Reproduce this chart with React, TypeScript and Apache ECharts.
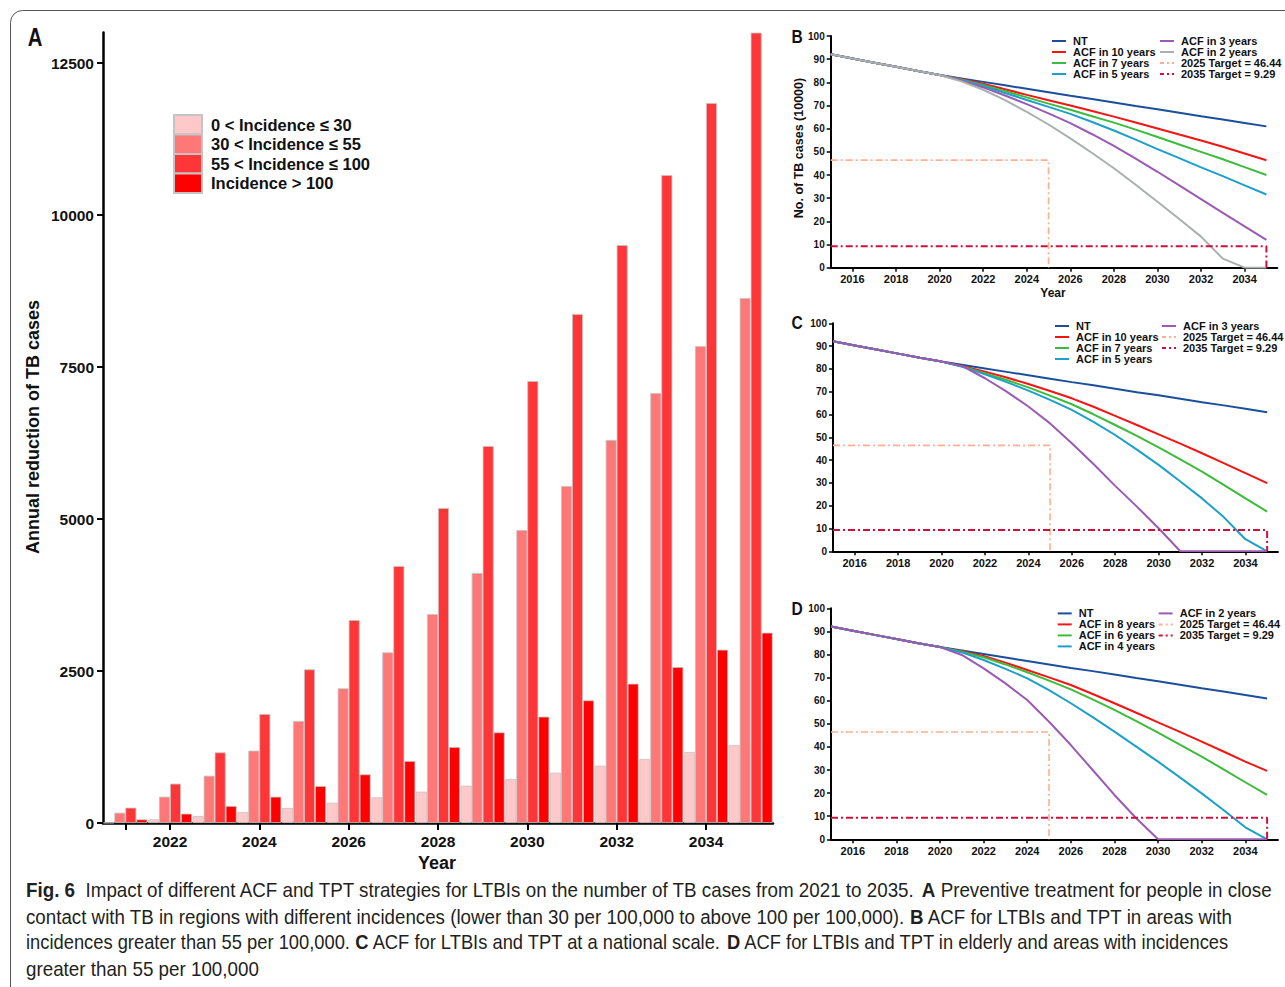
import React, { useEffect, useRef } from "react";
import * as echarts from "echarts";

const FONT = '"Liberation Sans", Arial, Helvetica, sans-serif';

// ---------- Panel A: annual reduction of TB cases by incidence band ----------
const barYears = ["2021", "2022", "2023", "2024", "2025", "2026", "2027", "2028", "2029", "2030", "2031", "2032", "2033", "2034", "2035"];
const incidenceLabels = ["0 < Incidence ≤ 30", "30 < Incidence ≤ 55", "55 < Incidence ≤ 100", "Incidence > 100"];
const incidenceColors = ["#FFC9C9", "#FF7878", "#FF3638", "#FF0000"];
const reductionLow = [5, 60, 115, 181, 247, 334, 422, 515, 614, 724, 828, 943, 1053, 1168, 1283];
const reductionMidLow = [169, 433, 778, 1190, 1678, 2215, 2807, 3437, 4112, 4819, 5543, 6300, 7072, 7845, 8635];
const reductionMidHigh = [252, 647, 1162, 1793, 2527, 3339, 4227, 5181, 6201, 7270, 8372, 9506, 10658, 11842, 13000];
const reductionHigh = [60, 154, 280, 433, 608, 800, 1020, 1250, 1491, 1749, 2018, 2291, 2566, 2850, 3130];
const barTicks = [0, 2500, 5000, 7500, 10000, 12500];

// ---------- Panels B–D: projected TB cases (10000) ----------
const lineYears = [2015, 2016, 2017, 2018, 2019, 2020, 2021, 2022, 2023, 2024, 2025, 2026, 2027, 2028, 2029, 2030, 2031, 2032, 2033, 2034, 2035];
const yearTicks = [2016, 2018, 2020, 2022, 2024, 2026, 2028, 2030, 2032, 2034];
const sharedHistory = [92.1, 90.3, 88.5, 86.7, 84.9, 83.2]; // 2015–2020
const ntCases = [81.7, 80.2, 78.7, 77.2, 75.7, 74.2, 72.8, 71.3, 69.8, 68.4, 66.9, 65.4, 64.0, 62.5, 61.0]; // 2021–2035

const bAcf10 = [81.4, 79.4, 77.0, 74.6, 72.3, 70.0, 67.6, 65.2, 62.7, 60.1, 57.5, 54.9, 52.2, 49.3, 46.4];
const bAcf7 = [81.2, 78.9, 76.2, 73.5, 70.8, 68.2, 65.4, 62.6, 59.6, 56.4, 53.2, 50.0, 46.8, 43.4, 40.0];
const bAcf5 = [81.0, 78.4, 75.4, 72.4, 69.4, 66.4, 62.9, 59.2, 55.3, 51.2, 47.3, 43.3, 39.5, 35.5, 31.6];
const bAcf3 = [80.8, 77.8, 74.3, 70.6, 66.6, 62.4, 57.6, 52.6, 47.1, 41.4, 35.5, 29.6, 23.7, 17.8, 12.0];
const bAcf2 = [80.4, 76.8, 72.3, 67.3, 61.8, 55.8, 49.5, 42.9, 35.8, 28.5, 21.0, 13.4, 3.9, 0, 0];

const cAcf10 = [81.2, 78.8, 76.2, 73.4, 70.3, 67.1, 63.4, 59.4, 55.4, 51.3, 47.2, 43.0, 38.7, 34.3, 29.9];
const cAcf7 = [81.0, 78.0, 75.1, 71.9, 68.3, 64.5, 60.1, 55.4, 50.6, 45.6, 40.3, 34.9, 29.1, 23.2, 17.4];
const cAcf5 = [80.8, 77.6, 74.2, 70.5, 66.4, 62.0, 56.8, 51.0, 44.6, 37.9, 30.6, 23.2, 15.0, 5.3, 0];
const cAcf3 = [81.0, 75.9, 70.0, 63.5, 56.1, 47.4, 38.3, 28.7, 19.6, 10.1, 0, 0, 0, 0, 0];

const dAcf8 = [81.4, 79.4, 76.5, 73.3, 70.1, 66.8, 62.9, 58.9, 54.8, 50.6, 46.5, 42.3, 38.0, 33.6, 29.6];
const dAcf6 = [81.2, 78.8, 75.7, 72.3, 68.7, 64.9, 60.6, 56.0, 51.2, 46.2, 41.0, 35.8, 30.3, 24.7, 19.2];
const dAcf4 = [80.9, 77.6, 73.8, 69.7, 64.6, 58.9, 52.9, 46.6, 40.1, 33.6, 26.8, 19.9, 12.7, 5.2, 0];
const dAcf2 = [79.8, 74.0, 67.5, 60.3, 50.9, 40.8, 30.0, 19.2, 9.1, 0, 0, 0, 0, 0, 0];

const target2025 = 46.44;
const target2035 = 9.29;
const target2025Name = "2025 Target = 46.44";
const target2035Name = "2035 Target = 9.29";

const C_NT = "#1B4F9C";
const C_RED = "#F41414";
const C_GREEN = "#3DBB3D";
const C_CYAN = "#1DA0C8";
const C_PURPLE = "#9B5BB5";
const C_GRAY = "#A9B0AF";
const C_T2025 = "#FFAE90";
const C_T2035 = "#D0103A";
const DASH_DOT = [7, 3, 2, 3];

type Curve = { name: string; color: string; values: number[] };

const panelB: Curve[] = [
  { name: "NT", color: C_NT, values: ntCases },
  { name: "ACF in 10 years", color: C_RED, values: bAcf10 },
  { name: "ACF in 7 years", color: C_GREEN, values: bAcf7 },
  { name: "ACF in 5 years", color: C_CYAN, values: bAcf5 },
  { name: "ACF in 3 years", color: C_PURPLE, values: bAcf3 },
  { name: "ACF in 2 years", color: C_GRAY, values: bAcf2 },
];
const panelC: Curve[] = [
  { name: "NT", color: C_NT, values: ntCases },
  { name: "ACF in 10 years", color: C_RED, values: cAcf10 },
  { name: "ACF in 7 years", color: C_GREEN, values: cAcf7 },
  { name: "ACF in 5 years", color: C_CYAN, values: cAcf5 },
  { name: "ACF in 3 years", color: C_PURPLE, values: cAcf3 },
];
const panelD: Curve[] = [
  { name: "NT", color: C_NT, values: ntCases },
  { name: "ACF in 8 years", color: C_RED, values: dAcf8 },
  { name: "ACF in 6 years", color: C_GREEN, values: dAcf6 },
  { name: "ACF in 4 years", color: C_CYAN, values: dAcf4 },
  { name: "ACF in 2 years", color: C_PURPLE, values: dAcf2 },
];

// layout of the three line panels
const linePanels = [
  { curves: panelB, grid: { left: 830.7, top: 36, width: 446.6, height: 231.7 }, legend: { c1: 1051, c2: 1159, top: 35.5 }, col1: 4 },
  { curves: panelC, grid: { left: 833, top: 323.3, width: 445, height: 228 }, legend: { c1: 1054, c2: 1161, top: 320.5 }, col1: 4 },
  { curves: panelD, grid: { left: 831, top: 608.3, width: 447, height: 231 }, legend: { c1: 1056.7, c2: 1157.7, top: 607.9 }, col1: 4 },
];

const captionLines: [string, boolean][][] = [
  [["Fig. 6", true], ["  Impact of different ACF and TPT strategies for LTBIs on the number of TB cases from 2021 to 2035. ", false], ["A", true], [" Preventive treatment for people in close", false]],
  [["contact with TB in regions with different incidences (lower than 30 per 100,000 to above 100 per 100,000). ", false], ["B", true], [" ACF for LTBIs and TPT in areas with", false]],
  [["incidences greater than 55 per 100,000. ", false], ["C", true], [" ACF for LTBIs and TPT at a national scale. ", false], ["D", true], [" ACF for LTBIs and TPT in elderly and areas with incidences", false]],
  [["greater than 55 per 100,000", false]],
];
const captionRight = [1272, 1234, 1230, 259];
const CAPTION_LEFT = 26;
const CAPTION_SIZE = 20;
const CAPTION_COLOR = "#231F20";

function buildCaption(): any[] {
  const ctx = document.createElement("canvas").getContext("2d");
  return captionLines.map((segs, i) => {
    let w = 0;
    segs.forEach(([t, b]) => {
      if (ctx) {
        ctx.font = `${b ? "bold " : ""}${CAPTION_SIZE}px ${FONT}`;
        w += ctx.measureText(t).width;
      }
    });
    const scale = w > 0 ? (captionRight[i] - CAPTION_LEFT) / w : 0.85;
    const text = segs.map(([t, b]) => `{${b ? "b" : "r"}|${t}}`).join("");
    return {
      type: "text",
      x: CAPTION_LEFT,
      y: 890 + i * 26.3,
      scaleX: scale,
      style: {
        text,
        align: "left",
        verticalAlign: "middle",
        fontFamily: FONT,
        fontSize: CAPTION_SIZE,
        fill: CAPTION_COLOR,
        rich: {
          b: { fontWeight: "bold", fontFamily: FONT, fontSize: CAPTION_SIZE, fill: CAPTION_COLOR },
          r: { fontWeight: "normal", fontFamily: FONT, fontSize: CAPTION_SIZE, fill: CAPTION_COLOR },
        },
      },
    };
  });
}

function buildOption(): any {
  const boldLabel = { fontFamily: FONT, fontWeight: "bold", color: "#111" };

  const grids: any[] = [
    { left: 103, top: 32.6, width: 670, height: 790.4, outerBoundsMode: "none" },
    ...linePanels.map((p) => ({ ...p.grid, outerBoundsMode: "none" })),
  ];

  const xAxes: any[] = [
    {
      gridIndex: 0,
      type: "category",
      data: barYears,
      axisLine: { show: true, lineStyle: { color: "#000", width: 2.5 } },
      axisTick: {
        show: true,
        alignWithLabel: true,
        length: 7,
        lineStyle: { color: "#000", width: 2 },
        interval: (i: number) => i === 0 || i % 2 === 1,
      },
      axisLabel: { interval: (i: number) => i % 2 === 1, fontSize: 15.5, margin: 10, ...boldLabel },
      splitLine: { show: false },
    },
    ...linePanels.map((_, k) => ({
      gridIndex: k + 1,
      type: "value",
      min: 2015,
      max: 2035.5,
      splitLine: { show: false },
      axisLine: { show: true, onZero: false, lineStyle: { color: "#000", width: 2 } },
      axisTick: { show: true, customValues: yearTicks, length: 4, lineStyle: { color: "#000", width: 1.5 } },
      axisLabel: { customValues: yearTicks, formatter: (v: number) => String(v), fontSize: 11, margin: 6, ...boldLabel },
    })),
  ];

  const yAxes: any[] = [
    {
      gridIndex: 0,
      type: "value",
      min: 0,
      max: 13000,
      splitLine: { show: false },
      axisLine: { show: true, lineStyle: { color: "#000", width: 2.5 } },
      axisTick: { show: true, customValues: barTicks, length: 6, lineStyle: { color: "#000", width: 2 } },
      axisLabel: { customValues: barTicks, formatter: (v: number) => String(v), fontSize: 15.5, margin: 9, ...boldLabel },
    },
    ...linePanels.map((_, k) => ({
      gridIndex: k + 1,
      type: "value",
      min: 0,
      max: 100,
      interval: 10,
      splitLine: { show: false },
      axisLine: { show: true, lineStyle: { color: "#000", width: 2 } },
      axisTick: { show: true, length: 4, lineStyle: { color: "#000", width: 1.5 } },
      axisLabel: { fontSize: 10, margin: 6, ...boldLabel },
    })),
  ];

  const barSeriesData = [reductionLow, reductionMidLow, reductionMidHigh, reductionHigh];
  const series: any[] = barSeriesData.map((vals, i) => ({
    type: "bar",
    name: incidenceLabels[i],
    xAxisIndex: 0,
    yAxisIndex: 0,
    data: vals,
    barWidth: 11,
    barGap: "0%",
    itemStyle: { color: incidenceColors[i], borderColor: "#C4C4C4", borderWidth: 0.8 },
  }));

  const legends: any[] = [
    {
      left: 173,
      top: 114,
      padding: 0,
      orient: "vertical",
      icon: "rect",
      itemWidth: 28,
      itemHeight: 19.6,
      itemGap: -2.1,
      selectedMode: false,
      textStyle: { fontSize: 16.5, fontWeight: "bold", fontFamily: FONT, color: "#111", lineHeight: 19.6, padding: [0, 0, 0, 4] },
      data: incidenceLabels,
    },
  ];

  linePanels.forEach((p, k) => {
    const gi = k + 1;
    p.curves.forEach((c) => {
      series.push({
        type: "line",
        name: c.name,
        xAxisIndex: gi,
        yAxisIndex: gi,
        symbol: "none",
        lineStyle: { color: c.color, width: 2 },
        itemStyle: { color: c.color },
        data: lineYears.map((y, i) => [y, i < sharedHistory.length ? sharedHistory[i] : c.values[i - sharedHistory.length]]),
      });
    });
    series.push({
      type: "line",
      name: target2025Name,
      xAxisIndex: gi,
      yAxisIndex: gi,
      symbol: "none",
      lineStyle: { color: C_T2025, width: 1.6, type: DASH_DOT },
      itemStyle: { color: C_T2025 },
      data: [[2015, target2025], [2025, target2025], [2025, 0]],
    });
    series.push({
      type: "line",
      name: target2035Name,
      xAxisIndex: gi,
      yAxisIndex: gi,
      symbol: "none",
      lineStyle: { color: C_T2035, width: 2, type: DASH_DOT },
      itemStyle: { color: C_T2035 },
      data: [[2015, target2035], [2035, target2035], [2035, 0]],
    });

    const items = [
      ...p.curves.map((c) => ({ name: c.name, color: c.color, width: 2, type: "solid" as any })),
      { name: target2025Name, color: C_T2025, width: 2, type: [4, 3, 2, 3] as any },
      { name: target2035Name, color: C_T2035, width: 2, type: [4, 3, 2, 3] as any },
    ];
    const mk = (list: typeof items, left: number) => ({
      left,
      top: p.legend.top,
      padding: 0,
      orient: "vertical",
      itemWidth: 14,
      itemHeight: 10.9,
      itemGap: 0,
      selectedMode: false,
      textStyle: { fontSize: 11, fontWeight: "bold", fontFamily: FONT, color: "#111", lineHeight: 10.9, padding: [0, 0, 0, 2] },
      data: list.map((it) => ({
        name: it.name,
        lineStyle: { color: it.color, width: it.width, type: it.type },
        itemStyle: { color: it.color, opacity: 0 },
      })),
    });
    legends.push(mk(items.slice(0, p.col1), p.legend.c1));
    legends.push(mk(items.slice(p.col1), p.legend.c2));
  });

  const letter = (t: string, x: number, y: number, size: number, sx: number) => ({
    type: "text",
    x,
    y,
    scaleX: sx,
    style: { text: t, align: "center", verticalAlign: "middle", fontFamily: FONT, fontWeight: "bold", fontSize: size, fill: "#111" },
  });
  const axisName = (t: string, x: number, y: number, size: number, rotate: boolean) => ({
    type: "text",
    x,
    y,
    rotation: rotate ? Math.PI / 2 : 0,
    style: { text: t, align: "center", verticalAlign: "middle", fontFamily: FONT, fontWeight: "bold", fontSize: size, fill: "#111" },
  });

  const graphic: any[] = [
    {
      type: "rect",
      z: -10,
      shape: { x: 10.5, y: 10.5, width: 1300, height: 1000, r: 12 },
      style: { fill: "none", stroke: "#555", lineWidth: 1 },
    },
    letter("A", 35, 37, 26, 0.78),
    letter("B", 797, 36, 19, 0.82),
    letter("C", 797, 322, 19, 0.82),
    letter("D", 797, 608, 19, 0.82),
    axisName("Annual reduction of TB cases", 33, 427, 18, true),
    axisName("Year", 437, 863, 18, false),
    axisName("No. of TB cases (10000)", 799, 148, 12.5, true),
    axisName("Year", 1053, 293, 12, false),
    ...buildCaption(),
  ];

  return {
    animation: false,
    backgroundColor: "#fff",
    grid: grids,
    xAxis: xAxes,
    yAxis: yAxes,
    legend: legends,
    series,
    graphic,
  };
}

export default function App() {
  const ref = useRef<HTMLDivElement>(null);
  useEffect(() => {
    if (!ref.current) return;
    const chart = echarts.init(ref.current, null, { renderer: "svg" });
    chart.setOption(buildOption());
    return () => chart.dispose();
  }, []);
  return (
    <div
      ref={ref}
      style={{ position: "fixed", left: 0, top: 0, width: 1285, height: 987, background: "#fff" }}
    />
  );
}
